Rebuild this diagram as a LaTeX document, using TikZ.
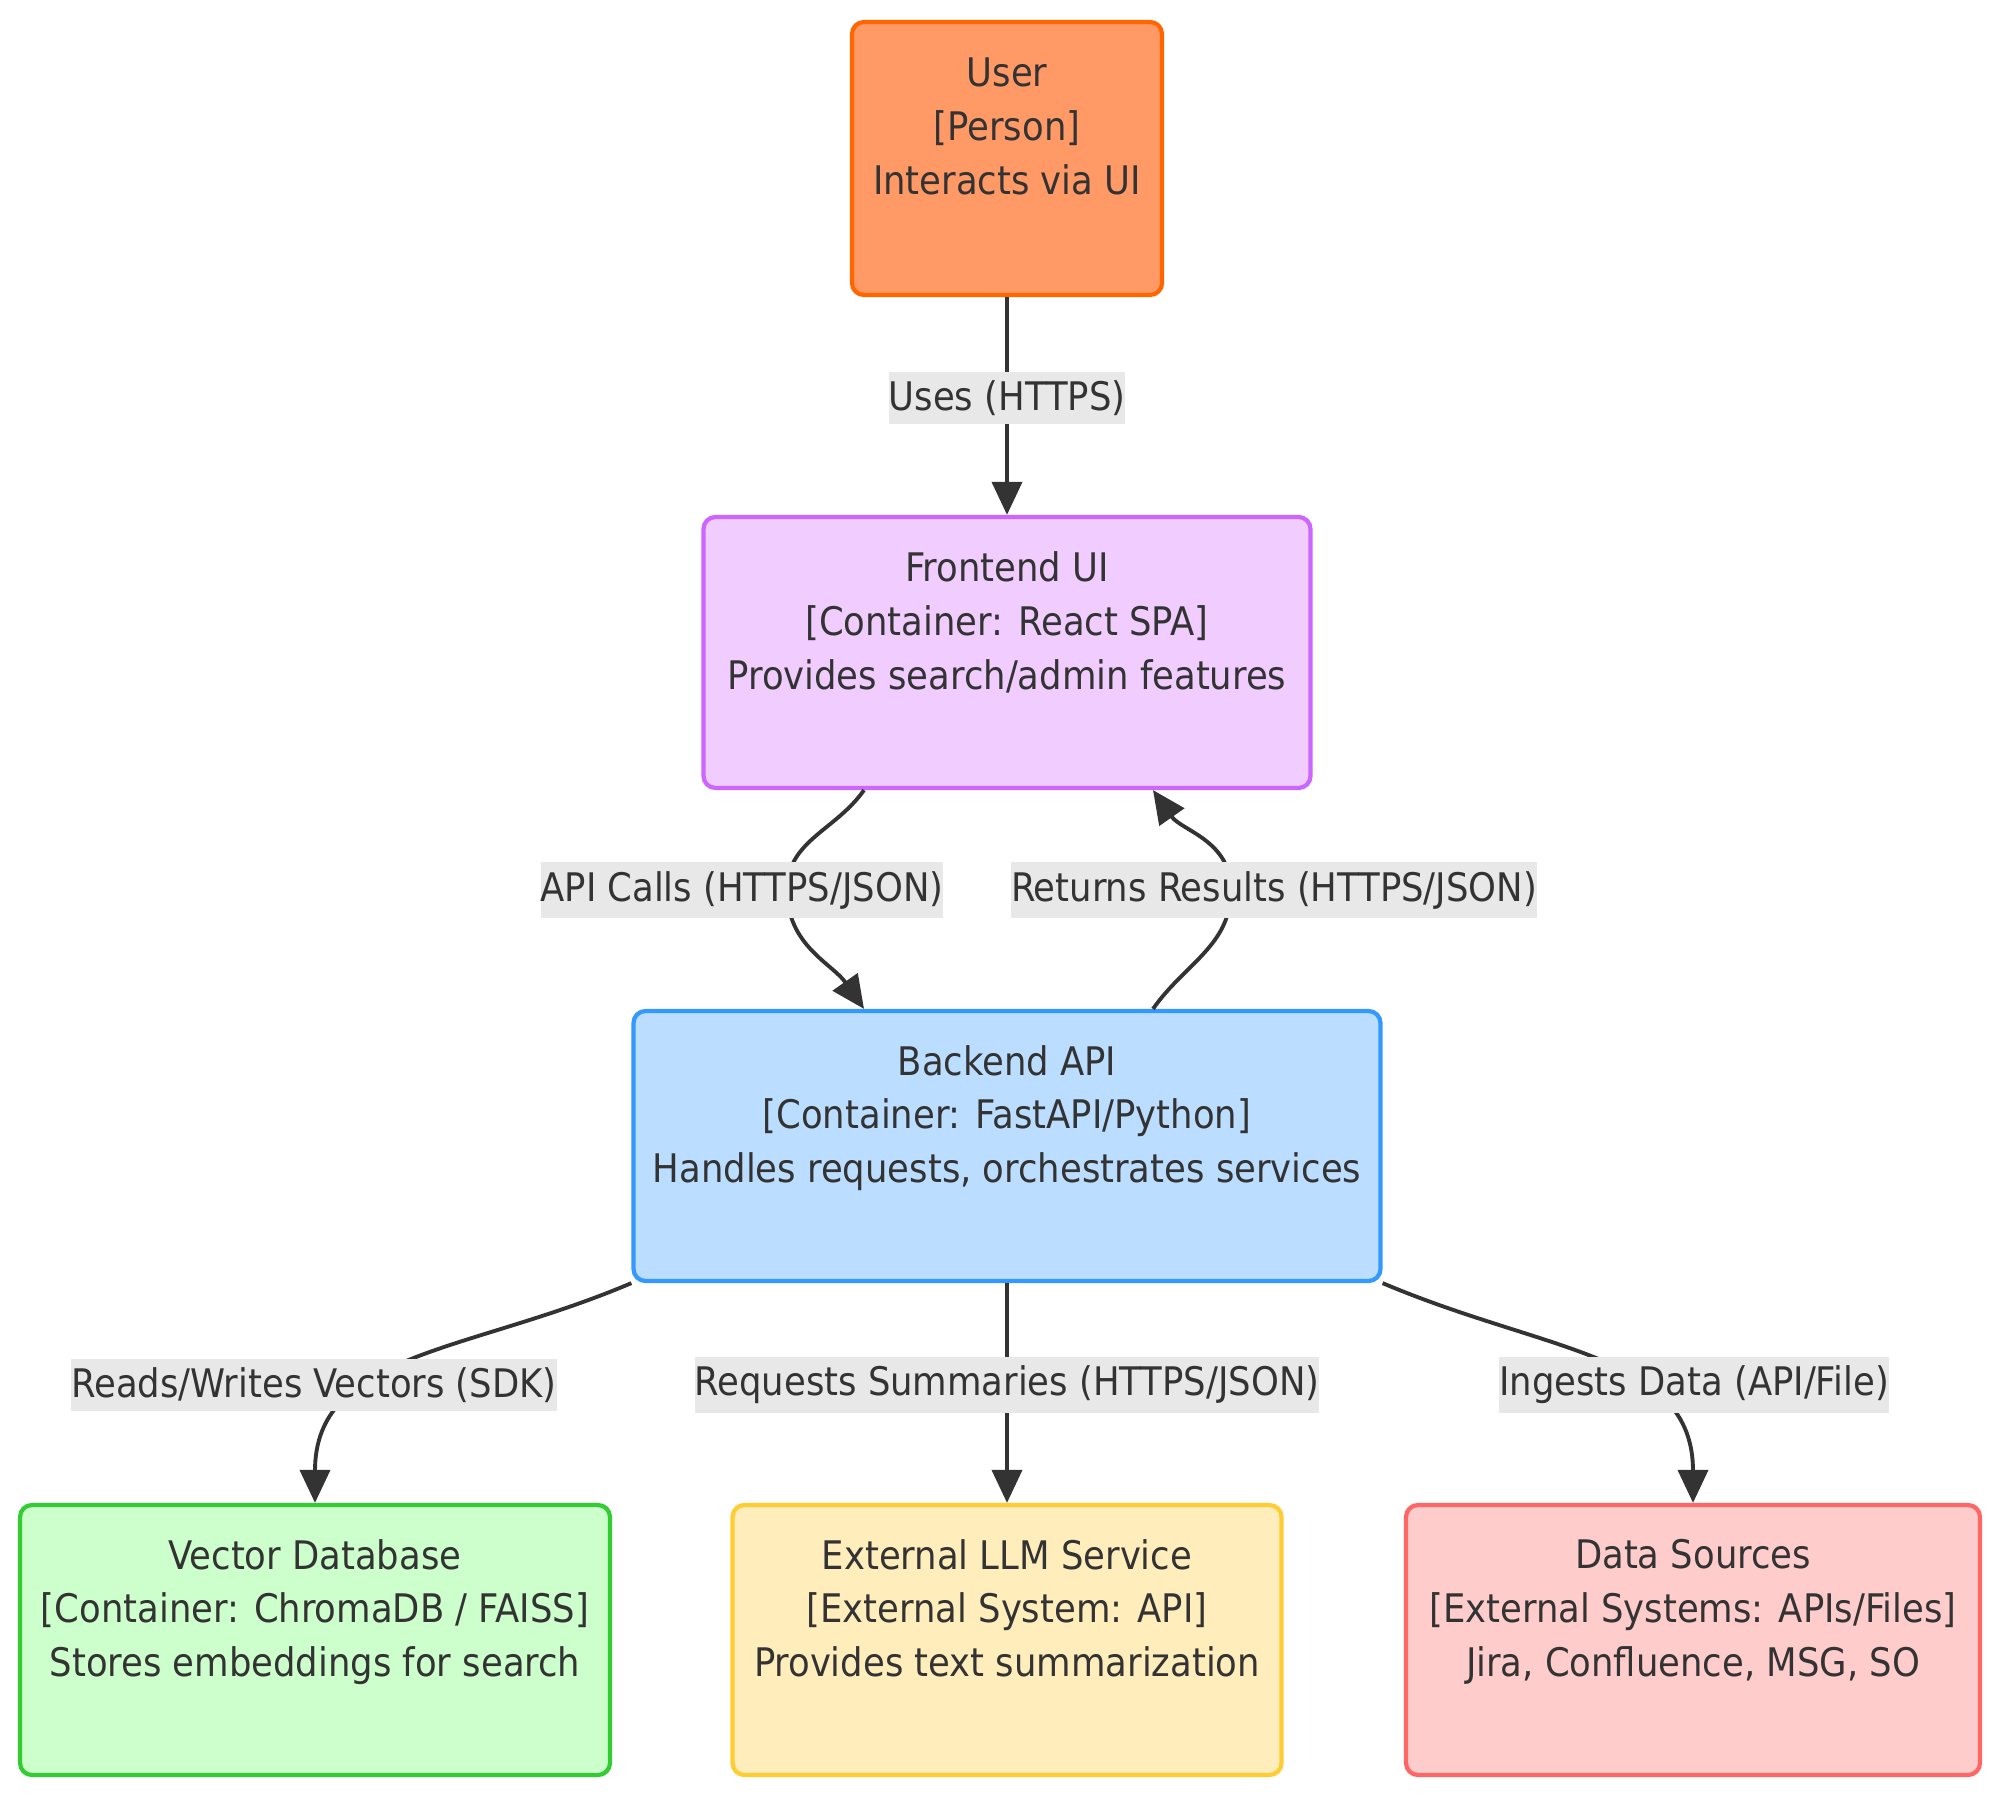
\documentclass[tikz,border=0pt]{standalone}
\usepackage{fontspec}
\setmainfont{DejaVu Sans Condensed}
\usetikzlibrary{arrows.meta}
\definecolor{ink}{HTML}{333333}
\definecolor{lblbg}{HTML}{E8E8E8}
\definecolor{userfill}{HTML}{FF9966}
\definecolor{userline}{HTML}{FF6600}
\definecolor{frontfill}{HTML}{F0CCFF}
\definecolor{frontline}{HTML}{CC66FF}
\definecolor{backfill}{HTML}{BBDDFF}
\definecolor{backline}{HTML}{3399FF}
\definecolor{vecfill}{HTML}{CCFFCC}
\definecolor{vecline}{HTML}{33CC33}
\definecolor{llmfill}{HTML}{FFEEBB}
\definecolor{llmline}{HTML}{FFCC33}
\definecolor{datafill}{HTML}{FFCCCC}
\definecolor{dataline}{HTML}{FF6666}
\begin{document}
\begin{tikzpicture}[
	box/.style={draw, line width=1.2pt, rounded corners=0.12cm, align=center, text=ink, inner sep=0pt, font=\fontsize{11.2}{15.3}\selectfont},
	lbl/.style={fill=lblbg, text=ink, inner xsep=0pt, inner ysep=2.5pt, font=\fontsize{11.2}{15.3}\selectfont},
	flow/.style={draw=ink, line width=1.1pt, -{Triangle[length=0.33cm,width=0.3cm]}}
]
	\useasboundingbox (0,0) rectangle (20,18);
	%nodes
	\node (user) at (10.07,16.415) [box, draw=userline, fill=userfill, minimum width=3.10cm, minimum height=2.73cm] {User\\{[Person]}\\Interacts via UI\\[3pt]~};
	\node (front) at (10.07,11.475) [box, draw=frontline, fill=frontfill, minimum width=6.07cm, minimum height=2.71cm] {Frontend UI\\{[Container: React SPA]}\\Provides search/admin features\\[3pt]~};
	\node (back) at (10.07,6.54) [box, draw=backline, fill=backfill, minimum width=7.47cm, minimum height=2.70cm] {Backend API\\{[Container: FastAPI/Python]}\\Handles requests, orchestrates services\\[3pt]~};
	\node (vec) at (3.15,1.60) [box, draw=vecline, fill=vecfill, minimum width=5.90cm, minimum height=2.70cm] {Vector Database\\{[Container: ChromaDB / FAISS]}\\Stores embeddings for search\\[3pt]~};
	\node (llm) at (10.07,1.60) [box, draw=llmline, fill=llmfill, minimum width=5.49cm, minimum height=2.70cm] {External LLM Service\\{[External System: API]}\\Provides text summarization\\[3pt]~};
	\node (data) at (16.93,1.60) [box, draw=dataline, fill=datafill, minimum width=5.74cm, minimum height=2.70cm] {Data Sources\\{[External Systems: APIs/Files]}\\Jira, Confluence, MSG, SO\\[3pt]~};
	%bends
	\coordinate (apibend) at (7.87,9.10);
	\coordinate (retbend) at (12.31,9.10);
	%edges
	\draw[flow] (user.south) -- (front.north);
	\draw[flow] ([xshift=-1.43cm]front.south) to[out=-125,in=90] (apibend) to[out=-90,in=125] ([xshift=-1.43cm]back.north);
	\draw[flow] ([xshift=1.46cm]back.north) to[out=55,in=-90] (retbend) to[out=90,in=-55] ([xshift=1.46cm]front.south);
	\draw[flow] (back.south west) to[out=203,in=90,out looseness=1.2] (vec.north);
	\draw[flow] (back.south) -- (llm.north);
	\draw[flow] (back.south east) to[out=-23,in=90,out looseness=1.2] (data.north);
	%labels
	\node (uses) at (10.07,14.02) [lbl] {Uses (HTTPS)};
	\node (apicalls) at (7.42,9.10) [lbl] {API Calls (HTTPS/JSON)};
	\node (returns) at (12.74,9.10) [lbl] {Returns Results (HTTPS/JSON)};
	\node (readswrites) at (3.14,4.15) [lbl] {Reads/Writes Vectors (SDK)};
	\node (requests) at (10.07,4.15) [lbl] {Requests Summaries (HTTPS/JSON)};
	\node (ingests) at (16.94,4.15) [lbl] {Ingests Data (API/File)};
\end{tikzpicture}
\end{document}
